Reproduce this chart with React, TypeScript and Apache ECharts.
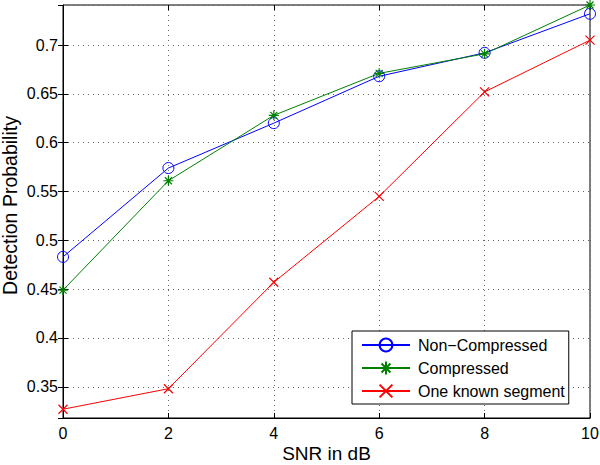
import React, { useEffect, useRef } from "react";
import * as echarts from "echarts";

const snr = [0, 2, 4, 6, 8, 10];
const nonCompressed = [0.483, 0.574, 0.62, 0.668, 0.692, 0.732];
const compressed = [0.449, 0.561, 0.628, 0.671, 0.691, 0.741];
const oneKnown = [0.327, 0.348, 0.457, 0.545, 0.652, 0.705];
const seriesNames = ["Non\u2212Compressed", "Compressed", "One known segment"];

const FONT = "'Liberation Sans', Arial, Helvetica, sans-serif";

const ASTERISK = "path://M5,0L5,10M0,5L10,5M1.5,1.5L8.5,8.5M1.5,8.5L8.5,1.5";
const CROSS = "path://M0,0L10,10M0,10L10,0";

export default function App() {
  const ref = useRef<HTMLDivElement>(null);
  useEffect(() => {
    if (!ref.current) return;
    const chart = echarts.init(ref.current, undefined, { renderer: "svg" });
    const pair = (ys: number[]) => snr.map((x, i) => [x, ys[i]]);
    const splitLine = { show: true, lineStyle: { color: "#666", type: [1, 4], width: 1 } };
    const tickIn = { show: true, inside: true, length: 5, lineStyle: { color: "#000" } };
    const yMin = 0.318;
    const yMax = 0.741;
    chart.setOption({
      animation: false,
      backgroundColor: "#fff",
      textStyle: { fontFamily: FONT },
      grid: {
        left: 63, right: 10, top: 5, bottom: 47,
        containLabel: false,
        outerBoundsMode: "none",
        show: true, borderColor: "#000", borderWidth: 1, backgroundColor: "transparent",
      },
      legend: {
        data: seriesNames,
        orient: "vertical",
        left: 352,
        top: 331,
        padding: [6, 4, 5, 9],
        itemGap: 7,
        itemWidth: 48,
        itemHeight: 16,
        backgroundColor: "#fff",
        borderColor: "#000",
        borderWidth: 1,
        borderRadius: 0,
        textStyle: { fontSize: 16, color: "#000", fontFamily: FONT, padding: [0, 0, 0, 3] },
      },
      xAxis: [
        {
          type: "value",
          min: 0,
          max: 10,
          interval: 2,
          name: "SNR in dB",
          nameLocation: "middle",
          nameGap: 26,
          nameMoveOverlap: false,
          nameTextStyle: { fontSize: 19, lineHeight: 19, color: "#000", fontFamily: FONT },
          axisLine: { show: true, lineStyle: { color: "#000" } },
          axisTick: tickIn,
          axisLabel: { fontSize: 16, color: "#000", margin: 7, fontFamily: FONT },
          splitLine,
        },
        {
          type: "value",
          position: "top",
          min: 0,
          max: 10,
          interval: 2,
          axisLine: { show: false },
          axisTick: tickIn,
          axisLabel: { show: false },
          splitLine: { show: false },
        },
      ],
      yAxis: [
        {
          type: "value",
          min: yMin,
          max: yMax,
          splitNumber: 8,
          name: "Detection Probability",
          nameLocation: "middle",
          nameGap: 43,
          nameMoveOverlap: false,
          nameTextStyle: { fontSize: 19.5, color: "#000", fontFamily: FONT, padding: [0, 0, 0, 12] },
          axisLine: { show: true, lineStyle: { color: "#000" } },
          axisTick: tickIn,
          axisLabel: { fontSize: 16, color: "#000", margin: 5, fontFamily: FONT, showMinLabel: false, showMaxLabel: false },
          splitLine,
        },
        {
          type: "value",
          position: "right",
          min: yMin,
          max: yMax,
          splitNumber: 8,
          axisLine: { show: false },
          axisTick: tickIn,
          axisLabel: { show: false },
          splitLine: { show: false },
        },
      ],
      series: [
        {
          name: seriesNames[0],
          type: "line",
          data: pair(nonCompressed),
          symbol: "circle",
          symbolSize: 11,
          showAllSymbol: true,
          lineStyle: { color: "#0000ff", width: 1 },
          itemStyle: { color: "rgba(0,0,0,0)", borderColor: "#0000ff", borderWidth: 1 },
          emphasis: { disabled: true },
        },
        {
          name: seriesNames[1],
          type: "line",
          data: pair(compressed),
          symbol: ASTERISK,
          symbolSize: 10,
          showAllSymbol: true,
          lineStyle: { color: "#008000", width: 1 },
          itemStyle: { color: "rgba(0,0,0,0)", borderColor: "#008000", borderWidth: 1.2 },
          emphasis: { disabled: true },
        },
        {
          name: seriesNames[2],
          type: "line",
          data: pair(oneKnown),
          symbol: CROSS,
          symbolSize: 9,
          showAllSymbol: true,
          lineStyle: { color: "#ff0000", width: 1 },
          itemStyle: { color: "rgba(0,0,0,0)", borderColor: "#ff0000", borderWidth: 1.2 },
          emphasis: { disabled: true },
        },
      ],
    });
    return () => chart.dispose();
  }, []);
  return <div ref={ref} style={{ width: 600, height: 465, position: "absolute", left: 0, top: 0 }} />;
}
